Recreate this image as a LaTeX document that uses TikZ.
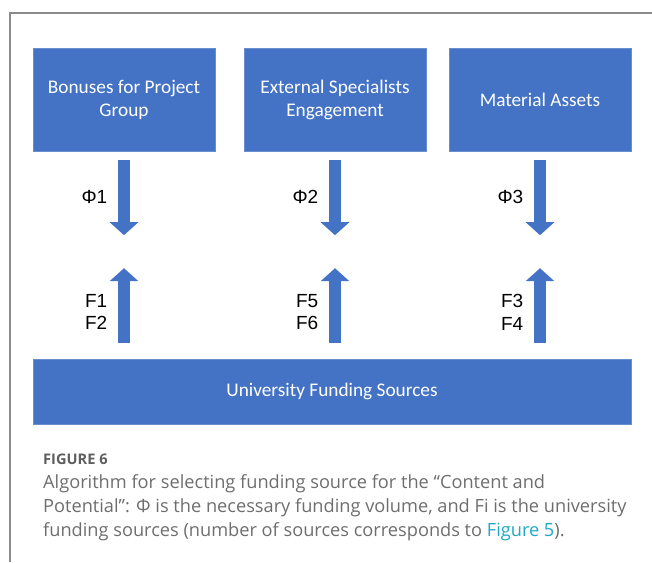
\documentclass[tikz,border=0pt]{standalone}
\usepackage{fontspec}
\usetikzlibrary{arrows.meta, positioning}
\newfontfamily\boxfont{Carlito}
\newfontfamily\labfont{Liberation Sans}
\newfontfamily\capfont{Open Sans}
\definecolor{boxblue}{HTML}{4472C4}
\definecolor{capgray}{HTML}{6E6E6E}
\definecolor{headgray}{HTML}{5E5E5E}
\definecolor{linkteal}{HTML}{1FA9C4}
\definecolor{framegray}{HTML}{8C8C8C}
\tikzset{
	topbox/.style={fill=boxblue, draw=boxblue!80!white, text=white, align=center,
		minimum width=182pt, minimum height=103pt, font=\boxfont\fontsize{19.3}{23}\selectfont},
	basebox/.style={topbox, minimum width=598pt, minimum height=65pt},
	fatarrow/.style={draw=boxblue, line width=12.5pt, -{Triangle[length=13pt, width=28pt]}},
	flabel/.style={align=left, inner sep=0pt, font=\labfont\fontsize{19}{22.5}\selectfont}
}
\begin{document}
\begin{tikzpicture}[x=1pt, y=-1pt]
	\useasboundingbox (0,0) rectangle (652,562);
	% Frame, boxes and arrows:
	\draw[framegray, line width=1.5pt] (10,562) -- (10,13) -- (652,13);
	\node[topbox] (bonus) at (124,99.5) {Bonuses for Project\\Group};
	\node[topbox] (extern) at (335,99.5) {External Specialists\\Engagement};
	\node[topbox] (assets) at (540,99.5) {Material Assets};
	\node[basebox] (univ) at (332,391.5) {University Funding Sources};
	\foreach \b/\k/\fa/\fb in {bonus/1/1/2, extern/2/5/6, assets/3/3/4}{
		\coordinate (\b-top) at ([yshift=-9pt]\b.south);
		\coordinate (\b-mid) at ([yshift=-84pt]\b.south);
		\coordinate (\b-low) at ([yshift=-117pt]\b.south);
		\coordinate (\b-bot) at ([yshift=-192pt]\b.south);
		\draw[fatarrow] (\b-top) -- (\b-mid);
		\draw[fatarrow] (\b-bot) -- (\b-low);
		\node[flabel, anchor=east] (phi\k) at ([xshift=-16.5pt,yshift=-37pt]\b-top) {Φ\k};
		\node[flabel, anchor=east] (f\k) at ([xshift=-16.5pt,yshift=-44pt]\b-low) {F\fa\\F\fb};
	}
	% Caption:
	\node[anchor=base west, inner sep=0pt, text=headgray,
		font=\capfont\bfseries\fontsize{14.6}{16}\selectfont] (fighead) at (43,464) {FIGURE 6};
	\node[anchor=north west, inner sep=0pt, align=left, text=capgray,
		font=\capfont\fontsize{18.2}{24}\selectfont] (figcap) at (43,474.5)
		{Algorithm for selecting funding source for the “Content and\\
		Potential”: Φ is the necessary funding volume, and Fi is the university\\
		funding sources (number of sources corresponds to \textcolor{linkteal}{Figure 5}).};
\end{tikzpicture}
\end{document}
